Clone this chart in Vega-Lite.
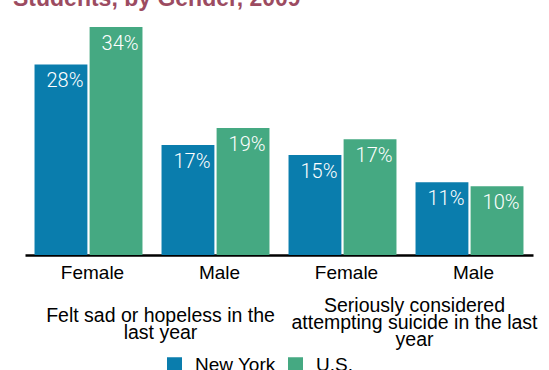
{
  "$schema": "https://vega.github.io/schema/vega-lite/v6.json",
  "padding": {"left": 13, "top": -12, "right": 0, "bottom": 0},
  "autosize": {"type": "pad"},
  "background": "white",
  "title": {"text": "Students, by Gender, 2009", "anchor": "start", "dx": -12, "font": "Liberation Sans", "fontSize": 23, "fontWeight": "bold", "color": "#9c4b61", "offset": 10},
  "config": {"view": {"stroke": null}, "font": "Liberation Sans"},
  "width": 508,
  "height": 234,
  "data": {"values": [
    {"question": "Felt sad or hopeless in the|last year", "group": "1 Female", "region": "New York", "value": 28.5, "label": "28%"},
    {"question": "Felt sad or hopeless in the|last year", "group": "1 Female", "region": "U.S.", "value": 34.1, "label": "34%"},
    {"question": "Felt sad or hopeless in the|last year", "group": "2 Male", "region": "New York", "value": 16.45, "label": "17%"},
    {"question": "Felt sad or hopeless in the|last year", "group": "2 Male", "region": "U.S.", "value": 19.0, "label": "19%"},
    {"question": "Seriously considered|attempting suicide in the last|year", "group": "3 Female", "region": "New York", "value": 14.95, "label": "15%"},
    {"question": "Seriously considered|attempting suicide in the last|year", "group": "3 Female", "region": "U.S.", "value": 17.3, "label": "17%"},
    {"question": "Seriously considered|attempting suicide in the last|year", "group": "4 Male", "region": "New York", "value": 10.9, "label": "11%"},
    {"question": "Seriously considered|attempting suicide in the last|year", "group": "4 Male", "region": "U.S.", "value": 10.3, "label": "10%"}
  ]},
  "layer": [
    {
      "encoding": {
        "x": {"field": "group", "type": "nominal", "scale": {"paddingInner": 0.15, "paddingOuter": 0.075},
          "axis": {"title": null, "orient": "bottom", "labelAngle": 0, "ticks": false, "domainColor": "black", "domainWidth": 2.5, "labelFontSize": 19, "labelColor": "black", "labelPadding": 8, "labelOffset": 4, "labelFont": "Liberation Sans", "labelExpr": "substring(datum.value, 2)"}},
        "xOffset": {"field": "region", "type": "nominal", "sort": ["New York", "U.S."], "scale": {"paddingInner": 0.04}},
        "y": {"field": "value", "type": "quantitative", "scale": {"domain": [0, 35]}, "axis": null}
      },
      "layer": [
        {"mark": {"type": "bar"},
         "encoding": {"color": {"field": "region", "type": "nominal", "sort": ["New York", "U.S."], "scale": {"domain": ["New York", "U.S."], "range": ["#0a7dad", "#45a982"]},
           "legend": {"title": null, "orient": "none", "legendX": 140, "legendY": 334, "direction": "horizontal", "symbolType": "square", "symbolSize": 225, "symbolStrokeWidth": 0, "symbolOpacity": 1, "labelFontSize": 19, "labelColor": "black", "labelFont": "Liberation Sans", "columnPadding": 10, "labelOffset": 11}}}},
        {"mark": {"type": "text", "baseline": "top", "dy": 7, "dx": 4, "color": "white", "fontSize": 20, "font": "Roboto", "fontWeight": 300},
         "encoding": {"text": {"field": "label"}}}
      ]
    },
    {
      "mark": {"type": "point", "opacity": 0},
      "encoding": {
        "x": {"field": "question", "type": "nominal", "scale": {"paddingInner": 0, "paddingOuter": 0},
          "axis": {"title": null, "orient": "bottom", "labelAngle": 0, "domain": false, "ticks": false, "labelFontSize": 19.5, "labelColor": "black", "labelFont": "Liberation Sans", "labelLineHeight": 17, "labelOffset": 8, "labelLimit": 0, "labelBaseline": "top",
            "labelPadding": {"condition": {"test": "indexof(datum.value, 'Felt') == 0", "value": 51}, "value": 41},
            "labelExpr": "split(datum.value, '|')"}}
      }
    }
  ],
  "resolve": {"scale": {"x": "independent"}, "axis": {"x": "independent"}}
}
